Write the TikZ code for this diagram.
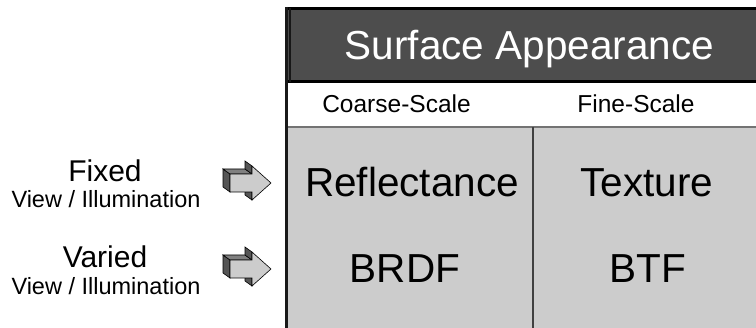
\documentclass[tikz,border=0pt]{standalone}
\usepackage{fontspec}
\setmainfont{Liberation Sans}
\usepackage{tikz}
\usetikzlibrary{positioning}

\definecolor{hdrgray}{HTML}{4D4D4D}
\definecolor{bodygray}{HTML}{CCCCCC}
\definecolor{sidedark}{HTML}{555555}
\definecolor{sidemid}{HTML}{808080}

\begin{document}
\begin{tikzpicture}[
    x=1pt, y=-1pt,
    big/.style={font=\fontsize{40.5}{44}\selectfont, anchor=base, inner sep=0pt},
    colhead/.style={font=\fontsize{24.5}{28}\selectfont, anchor=base, inner sep=0pt},
    cond/.style={font=\fontsize{30}{34}\selectfont, anchor=base, inner sep=0pt},
    condsub/.style={font=\fontsize{23.5}{26}\selectfont, anchor=base, inner sep=0pt},
    face/.style={draw=black, line width=0.6pt, line join=miter},
  ]
    \useasboundingbox (0,0) rectangle (756,328);
    \clip (0,0) rectangle (756,328);

    % table: header, column band, body
    \fill[hdrgray] (287,8) rectangle (760,82);
    \fill[white] (287,82) rectangle (760,127);
    \fill[bodygray] (287,127) rectangle (760,332);
    \draw[black, line width=3pt] (287,8.5) -- (760,8.5);
    \draw[black, line width=3pt] (287,81.5) -- (760,81.5);
    \draw[black!70!hdrgray, line width=1.5pt] (290,8) -- (290,82);
    \draw[black!55, line width=1.5pt] (287,127) -- (760,127);
    \draw[black!75, line width=1.8pt] (533,127) -- (533,332);
    \draw[black!90, line width=3.5pt] (286.5,7) -- (286.5,332);

    \node[big, text=white] (title) at (529.5,60) {Surface Appearance};
    \node[colhead] (coarse) at (396.5,113) {Coarse-Scale};
    \node[colhead] (fine) at (636,113) {Fine-Scale};
    \node[big] (refl) at (412,197) {Reflectance};
    \node[big] (tex) at (647,197) {Texture};
    \node[big] (brdf) at (405,283) {BRDF};
    \node[big] (btf) at (648,283) {BTF};

    % row labels
    \node[cond] (fixed) at (105,182) {Fixed};
    \node[condsub] (fixedvi) at (106,208) {View / Illumination};
    \node[cond] (varied) at (105,268) {Varied};
    \node[condsub] (variedvi) at (106,295) {View / Illumination};

    % block arrows
    \foreach \c in {183,269} {
      \filldraw[face, fill=sidedark] (230,\c-9) -- (230,\c+9) -- (223,\c+4) -- (223,\c-14) -- cycle;
      \filldraw[face, fill=sidemid] (230,\c-9) -- (252,\c-9) -- (245,\c-14) -- (223,\c-14) -- cycle;
      \filldraw[face, fill=sidedark] (252,\c-9) -- (252,\c-17) -- (245,\c-22) -- (245,\c-14) -- cycle;
      \filldraw[face, fill=sidedark] (252,\c+9) -- (252,\c+17) -- (245,\c+12) -- (245,\c+4) -- cycle;
      \filldraw[face, fill=bodygray] (230,\c-9) -- (252,\c-9) -- (252,\c-17) -- (271,\c)
        -- (252,\c+17) -- (252,\c+9) -- (230,\c+9) -- cycle;
    }
  \end{tikzpicture}
\end{document}
